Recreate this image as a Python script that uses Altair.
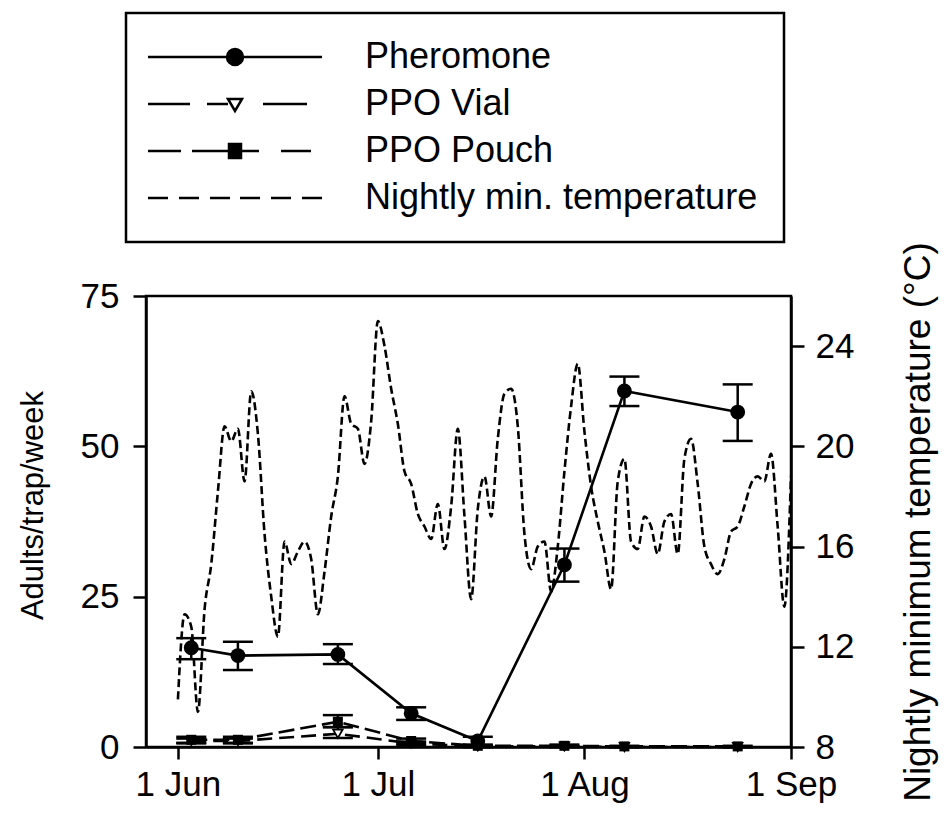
import altair as alt
import pandas as pd

FONT = "Liberation Sans"

# ---- data ----
series_names = ["Pheromone", "PPO Vial", "PPO Pouch", "Nightly min. temperature"]

trap_dates = ["2009-06-03", "2009-06-10", "2009-06-25", "2009-07-06",
              "2009-07-16", "2009-07-29", "2009-08-07", "2009-08-24"]

pher_mean = [16.5, 15.2, 15.4, 5.6, 1.0, 30.3, 59.2, 55.7]
pher_lo = [14.6, 12.8, 13.8, 4.5, 0.3, 27.5, 56.7, 50.9]
pher_hi = [18.1, 17.5, 17.1, 6.6, 1.7, 33.0, 61.6, 60.3]

vial_mean = [1.0, 1.0, 2.2, 0.6, 0.1, 0.1, 0.0, 0.0]
vial_lo = [0.6, 0.6, 1.5, 0.3, 0.0, 0.0, 0.0, 0.0]
vial_hi = [1.4, 1.4, 3.3, 0.9, 0.2, 0.2, 0.0, 0.0]

pouch_mean = [1.2, 1.2, 4.2, 1.0, 0.2, 0.2, 0.1, 0.1]
pouch_lo = [0.7, 0.7, 3.3, 0.6, 0.0, 0.0, 0.0, 0.0]
pouch_hi = [1.7, 1.7, 5.3, 1.4, 0.4, 0.4, 0.2, 0.2]

temp_start = "2009-06-01"
temp_values = [
    9.9, 13.3, 12.8, 9.4, 13.5, 15.3, 18.2, 20.8, 20.2, 20.7,
    18.6, 22.2, 20.5, 16.5, 14.0, 12.4, 16.2, 15.3, 15.8, 16.2,
    15.5, 13.3, 15.0, 17.2, 18.8, 22.0, 20.9, 20.7, 19.3, 21.0,
    25.0, 24.0, 22.3, 20.9, 19.0, 18.5, 17.3, 16.8, 16.3, 17.7,
    15.9, 17.6, 20.7, 17.2, 13.9, 17.5, 18.8, 17.2, 20.3, 22.1,
    22.3, 20.8, 16.5, 15.1, 16.0, 16.2, 14.2, 16.0, 19.0, 21.6,
    23.3, 20.6, 18.4, 17.0, 15.8, 14.3, 18.6, 19.5, 16.2, 15.9,
    17.2, 16.8, 15.7, 17.0, 17.3, 15.7, 19.5, 20.3, 18.5, 16.0,
    15.3, 14.9, 15.5, 16.6, 16.8, 17.6, 18.5, 18.8, 18.6, 19.7,
    16.8, 13.6, 18.8,
]

# legend glyphs (line + marker), drawn through the shape scale
legend_paths = [
    "M-87,0H87M-8,0A8,8,0,1,0,8,0A8,8,0,1,0,-8,0Z",
    "M-87,0H-45M-28,0H-7M28,0H72M-7,-5L7,-5L0,7Z",
    "M-87,0H-54M-43,0H-6M6,0H24M46,0H76M-6,-7H6V7H-6Z",
    "M-87,0H-67M-56,0H-36M-25,0H-5M5,0H25M36,0H56M67,0H87",
]
legend_fills = ["black", "white", "black", "white"]
legend_strokes = ["black", "black", "black", "black"]

# ---- tables ----
temp_df = pd.DataFrame({
    "date": pd.date_range(temp_start, periods=len(temp_values), freq="D"),
    "temp": temp_values,
})


def trap_df(mean, lo, hi):
    return pd.DataFrame({"date": pd.to_datetime(trap_dates), "mean": mean, "lo": lo, "hi": hi})


pher_df = trap_df(pher_mean, pher_lo, pher_hi)
vial_df = trap_df(vial_mean, vial_lo, vial_hi)
pouch_df = trap_df(pouch_mean, pouch_lo, pouch_hi)

# ---- scales / axes ----
x_enc = alt.X(
    "date:T",
    scale=alt.Scale(domain=[alt.DateTime(year=2009, month=5, date=27, hours=5),
                            alt.DateTime(year=2009, month=9, date=1)]),
    axis=alt.Axis(values=[alt.DateTime(year=2009, month=m, date=1) for m in (6, 7, 8, 9)],
                  format="%-d %b", title=None, tickSize=12, labelPadding=8, labelFlush=False),
)

y_left_scale = alt.Scale(domain=[0, 75], nice=False, zero=False)
y_left_axis = alt.Axis(values=[0, 25, 50, 75], title="Adults/trap/week",
                       titleAngle=270, titleX=-113, titleY=209, titleFontSize=31,
                       titleAlign="center", titleBaseline="middle", labelPadding=14)

temp_layer = alt.Chart(temp_df).mark_line(
    color="black", strokeWidth=2.6, strokeDash=[8, 4], interpolate="monotone"
).encode(
    x=x_enc,
    y=alt.Y("temp:Q", scale=alt.Scale(domain=[8, 26], nice=False, zero=False),
            axis=alt.Axis(orient="right", values=[8, 12, 16, 20, 24],
                          title="Nightly minimum temperature (°C)", titleAngle=270,
                          titleX=127, titleY=225.5, titleAlign="center", titleFontSize=37,
                          titleBaseline="middle", labelPadding=11)),
)


def series_layers(df, line_dash, point_mark):
    base = alt.Chart(df)
    y_lo = alt.Y("lo:Q", scale=y_left_scale, axis=y_left_axis)
    y_hi = alt.Y("hi:Q", scale=y_left_scale, axis=y_left_axis)
    y_mean = alt.Y("mean:Q", scale=y_left_scale, axis=y_left_axis)
    rule = base.mark_rule(color="black", strokeWidth=2.5).encode(x=x_enc, y=y_lo, y2="hi:Q")
    cap_lo = base.mark_tick(orient="horizontal", size=30, thickness=2.5, color="black",
                            opacity=1).encode(x=x_enc, y=y_lo)
    cap_hi = base.mark_tick(orient="horizontal", size=30, thickness=2.5, color="black",
                            opacity=1).encode(x=x_enc, y=y_hi)
    line_kw = dict(color="black", strokeWidth=2.6)
    if line_dash:
        line_kw["strokeDash"] = line_dash
    line = base.mark_line(**line_kw).encode(x=x_enc, y=y_mean)
    pts = base.mark_point(**point_mark).encode(x=x_enc, y=y_mean)
    return [rule, cap_lo, cap_hi, line, pts]


vial_layers = series_layers(vial_df, [15, 7], dict(shape="triangle-down", filled=True, fill="white",
                                                    stroke="black", strokeWidth=1.8, size=90, opacity=1))
pouch_layers = series_layers(pouch_df, [16, 6], dict(shape="square", filled=True, color="black",
                                                      size=100, opacity=1))
pher_layers = series_layers(pher_df, None, dict(shape="circle", filled=True, color="black",
                                                 size=220, opacity=1))

legend_layer = alt.Chart(pd.DataFrame({"series": series_names})).transform_filter("false").mark_point(
    filled=True, strokeWidth=2.5, opacity=1
).encode(
    shape=alt.Shape("series:N", scale=alt.Scale(domain=series_names, range=legend_paths),
                    legend=alt.Legend(title=None)),
    fill=alt.Fill("series:N", scale=alt.Scale(domain=series_names, range=legend_fills),
                  legend=alt.Legend(title=None)),
    stroke=alt.Stroke("series:N", scale=alt.Scale(domain=series_names, range=legend_strokes),
                      legend=alt.Legend(title=None)),
)

counts = alt.layer(*vial_layers, *pouch_layers, *pher_layers, legend_layer)

chart = alt.layer(temp_layer, counts).resolve_scale(y="independent").properties(
    width=645, height=451,
    autosize=alt.AutoSizeParams(type="none"),
    padding={"left": 138, "top": 288, "right": 148, "bottom": 70},
).configure_view(
    stroke="black", strokeWidth=2.5
).configure_axis(
    domainColor="black", domainWidth=2.5, tickColor="black", tickWidth=2.5, tickSize=13,
    labelFont=FONT, labelFontSize=35, labelColor="black",
    titleFont=FONT, titleFontSize=33, titleColor="black", titleFontWeight="normal",
    grid=False,
).configure_legend(
    orient="none", legendX=-20, legendY=-283,
    strokeColor="black", strokeWidth=2.5, fillColor="white", padding=26,
    symbolSize=4, symbolStrokeColor="black", symbolStrokeWidth=2.5,
    symbolOffset=65, labelOffset=112, rowPadding=11,
    labelFont=FONT, labelFontSize=36, labelColor="black", labelLimit=800,
)

chart.save("out.html", embed_options={"renderer": "svg", "actions": False})
